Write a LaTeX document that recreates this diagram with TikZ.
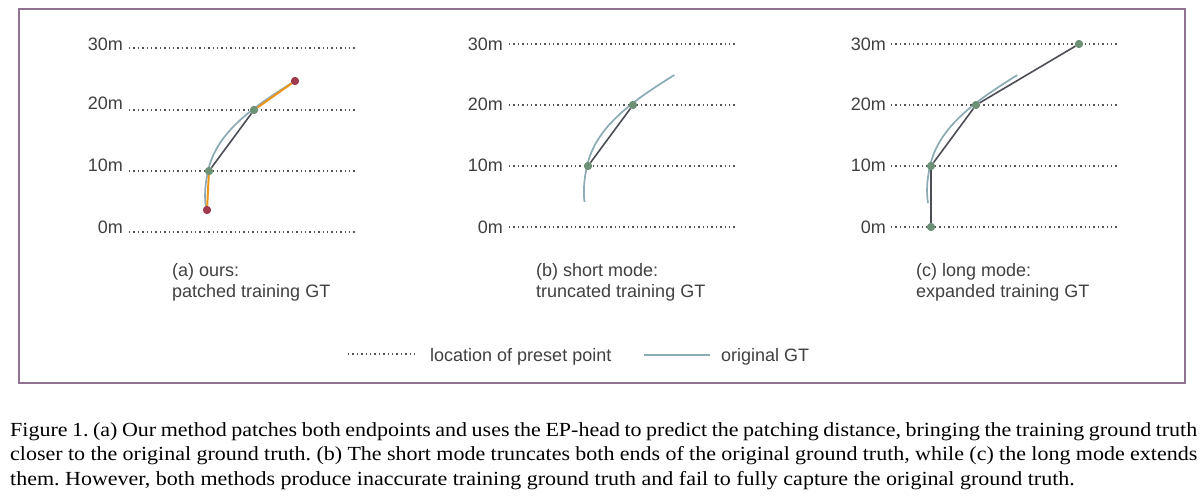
\documentclass[tikz,border=0pt]{standalone}
\usepackage{fontspec}
\setmainfont{Liberation Serif}
\setsansfont{Liberation Sans}
\newfontfamily\capfont[FakeStretch=1.1]{Liberation Serif}
\definecolor{framecol}{RGB}{145,115,145}
\definecolor{dotcol}{RGB}{85,85,85}
\definecolor{gtcol}{RGB}{140,170,180}
\definecolor{trcol}{RGB}{75,78,84}
\definecolor{orcol}{RGB}{235,150,25}
\definecolor{grcol}{RGB}{108,145,118}
\definecolor{rdcol}{RGB}{160,58,78}
\definecolor{labcol}{RGB}{64,64,64}
\begin{document}
\begin{tikzpicture}[x=1pt,y=-1pt,
  preset/.style={draw=dotcol,line width=1.3pt,dash pattern=on 1.3pt off 3.1pt},
  gtline/.style={draw=gtcol,line width=1.7pt},
  trline/.style={draw=trcol,line width=1.6pt},
  patchline/.style={draw=orcol,line width=2pt},
  gdot/.style={circle,fill=grcol,inner sep=0pt,minimum size=8pt},
  rdot/.style={circle,fill=rdcol,inner sep=0pt,minimum size=8pt},
  ticklab/.style={anchor=east,inner sep=0pt,text=labcol,font=\sffamily\fontsize{18}{21}\selectfont},
  sublab/.style={anchor=base west,inner sep=0pt,text=labcol,font=\sffamily\fontsize{18}{21}\selectfont},
  caplab/.style={anchor=base west,inner sep=0pt,text=black,font=\capfont\fontsize{20}{24}\selectfont\frenchspacing},
  frame/.style={draw=framecol,line width=2pt}
]
\useasboundingbox (0,0) rectangle (1204,499);
\fill[white] (0,0) rectangle (1204,499);
\draw[frame] (19,9) rectangle (1185,383);

% ---------- panel (a) ----------
\node[ticklab] (a30) at (123,44.5) {30m};
\node[ticklab] (a20) at (123,103.5) {20m};
\node[ticklab] (a10) at (123,165) {10m};
\node[ticklab] (a0)  at (123,227.5) {0m};
\draw[preset] (129,48) -- (357,48);
\draw[preset] (129,110) -- (357,110);
\draw[preset] (129,171) -- (357,171);
\draw[preset] (129,232) -- (357,232);
\begin{scope}[shift={(209,171)}]
\draw[gtline] (-3,37) .. controls (-5,24) and (-3.64,12) .. (-1,0) .. controls (7.8,-40) and (46,-65) .. (86,-90);
\end{scope}
\node[rdot] (ar1) at (207,210) {};
\node[gdot] (ag1) at (209,171) {};
\node[gdot] (ag2) at (254,110) {};
\node[rdot] (ar2) at (295,81) {};
\draw[patchline] (ar1) -- (ag1);
\draw[trline] (ag1) -- (ag2);
\draw[patchline] (ag2) -- (ar2);
\node[rdot] at (ar1) {};
\node[gdot] at (ag1) {};
\node[gdot] at (ag2) {};
\node[rdot] at (ar2) {};
\node[sublab] (acap1) at (172,276) {(a) ours:};
\node[sublab] (acap2) at (172,297) {patched training GT};

% ---------- panel (b) ----------
\node[ticklab] (b30) at (503,44) {30m};
\node[ticklab] (b20) at (503,104.5) {20m};
\node[ticklab] (b10) at (503,165.5) {10m};
\node[ticklab] (b0)  at (503,227) {0m};
\draw[preset] (509,44) -- (737,44);
\draw[preset] (509,105) -- (737,105);
\draw[preset] (509,166) -- (737,166);
\draw[preset] (509,227) -- (737,227);
\begin{scope}[shift={(588,166)}]
\draw[gtline] (-3.5,36) .. controls (-5,24) and (-3.64,12) .. (-1,0) .. controls (7.8,-40) and (46.3,-66) .. (86.3,-91);
\end{scope}
\node[gdot] (bg1) at (588,166) {};
\node[gdot] (bg2) at (633,105) {};
\draw[trline] (bg1) -- (bg2);
\node[gdot] at (bg1) {};
\node[gdot] at (bg2) {};
\node[sublab] (bcap1) at (536,276) {(b) short mode:};
\node[sublab] (bcap2) at (536,297) {truncated training GT};

% ---------- panel (c) ----------
\node[ticklab] (c30) at (886,44) {30m};
\node[ticklab] (c20) at (886,104.5) {20m};
\node[ticklab] (c10) at (886,165.5) {10m};
\node[ticklab] (c0)  at (886,227) {0m};
\draw[preset] (891,44) -- (1117,44);
\draw[preset] (891,105) -- (1117,105);
\draw[preset] (891,166) -- (1117,166);
\draw[preset] (891,227) -- (1117,227);
\begin{scope}[shift={(931,166)}]
\draw[gtline] (-3,37) .. controls (-5,24) and (-3.64,12) .. (-1,0) .. controls (7.8,-40) and (46.3,-66) .. (86.3,-91);
\end{scope}
\node[gdot] (cg0) at (931,227) {};
\node[gdot] (cg1) at (931,166) {};
\node[gdot] (cg2) at (976,105) {};
\node[gdot] (cg3) at (1079,44) {};
\draw[trline] (cg0) -- (cg1) -- (cg2) -- (cg3);
\node[gdot] at (cg0) {};
\node[gdot] at (cg1) {};
\node[gdot] at (cg2) {};
\node[gdot] at (cg3) {};
\node[sublab] (ccap1) at (916,276) {(c) long mode:};
\node[sublab] (ccap2) at (916,297) {expanded training GT};

% ---------- legend ----------
\coordinate (lp1) at (348,354);
\coordinate (lp2) at (415,354);
\draw[preset] (lp1) -- (lp2);
\node[sublab] (lptext) at (430,361) {location of preset point};
\coordinate (lg1) at (644,355);
\coordinate (lg2) at (710,355);
\draw[gtline] (lg1) -- (lg2);
\node[sublab] (lgtext) at (721,361) {original GT};

% ---------- caption ----------
\node[caplab] (cap1) at (10,436) {\hbox to 1187pt{Figure 1. (a) Our method patches both endpoints and uses the EP-head to predict the patching distance, bringing the training ground truth}};
\node[caplab] (cap2) at (10,460.5) {\hbox to 1187pt{closer to the original ground truth. (b) The short mode truncates both ends of the original ground truth, while (c) the long mode extends}};
\node[caplab] (cap3) at (10,485) {them. However, both methods produce inaccurate training ground truth and fail to fully capture the original ground truth.};
\end{tikzpicture}
\end{document}
